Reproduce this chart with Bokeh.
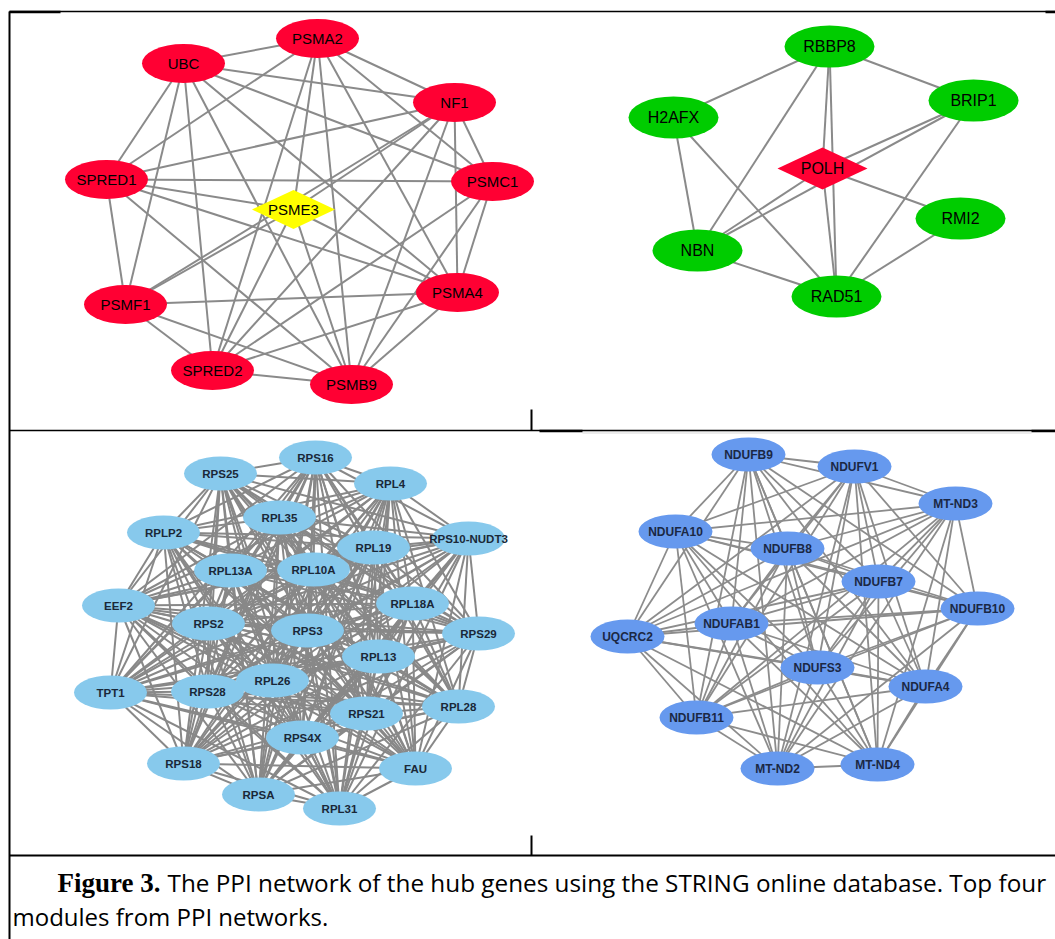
from itertools import combinations

from bokeh.core.properties import value
from bokeh.embed import file_html
from bokeh.models import ColumnDataSource, Range1d
from bokeh.plotting import figure
from bokeh.resources import INLINE

# ---------------------------------------------------------------------------
# Module 1: proteasome / SPRED cluster (PSME3 is the hub gene)
m1_genes = ["PSMA2", "UBC", "NF1", "SPRED1", "PSMC1", "PSME3",
            "PSMF1", "PSMA4", "SPRED2", "PSMB9"]
m1_x = [317, 183, 454, 106, 492, 293, 125, 457, 212, 351]
m1_y = [38, 63, 102, 179, 181, 209, 304, 292, 370, 384]
m1_hub = ["PSME3"]
m1_edges = [
    ("UBC", "PSMA2"), ("UBC", "NF1"), ("UBC", "PSMC1"), ("UBC", "SPRED1"),
    ("UBC", "PSMF1"), ("UBC", "SPRED2"), ("UBC", "PSMA4"), ("UBC", "PSMB9"),
    ("PSMA2", "SPRED1"), ("PSMA2", "NF1"), ("PSMA2", "PSMC1"), ("PSMA2", "PSMA4"),
    ("PSMA2", "PSMB9"), ("PSMA2", "PSME3"), ("PSMA2", "SPRED2"),
    ("NF1", "SPRED1"), ("NF1", "PSMC1"), ("NF1", "PSMA4"), ("NF1", "PSMB9"),
    ("NF1", "SPRED2"), ("NF1", "PSMF1"), ("NF1", "PSME3"),
    ("PSMC1", "SPRED1"), ("PSMC1", "PSMA4"), ("PSMC1", "PSMB9"), ("PSMC1", "SPRED2"),
    ("PSMA4", "PSMF1"), ("PSMA4", "SPRED2"), ("PSMA4", "PSMB9"), ("PSMA4", "SPRED1"),
    ("PSMA4", "PSME3"),
    ("PSMB9", "SPRED2"), ("PSMB9", "PSMF1"), ("PSMB9", "SPRED1"), ("PSMB9", "PSME3"),
    ("SPRED2", "PSMF1"), ("SPRED2", "PSME3"),
    ("PSMF1", "SPRED1"), ("PSMF1", "PSME3"),
    ("SPRED1", "PSME3"),
]

# Module 2: DNA repair cluster (POLH is the hub gene)
m2_genes = ["RBBP8", "H2AFX", "BRIP1", "POLH", "RMI2", "NBN", "RAD51"]
m2_x = [829, 673, 973, 822, 960, 697, 836]
m2_y = [46, 117, 100, 168, 218, 250, 296]
m2_hub = ["POLH"]
m2_edges = [
    ("RBBP8", "H2AFX"), ("RBBP8", "BRIP1"), ("RBBP8", "NBN"), ("RBBP8", "POLH"),
    ("RBBP8", "RAD51"), ("H2AFX", "NBN"), ("H2AFX", "RAD51"), ("BRIP1", "POLH"),
    ("BRIP1", "NBN"), ("BRIP1", "RAD51"), ("POLH", "RMI2"), ("POLH", "NBN"),
    ("POLH", "RAD51"), ("RMI2", "RAD51"), ("NBN", "RAD51"),
]

# Module 3: ribosomal proteins (every member pair interacts)
m3_genes = ["RPS16", "RPS25", "RPL4", "RPL35", "RPLP2", "RPL19", "RPS10-NUDT3",
            "RPL13A", "RPL10A", "EEF2", "RPL18A", "RPS2", "RPS3", "RPS29",
            "RPL13", "RPL26", "TPT1", "RPS28", "RPL28", "RPS21", "RPS4X",
            "RPS18", "FAU", "RPSA", "RPL31"]
m3_x = [315, 220, 390, 279, 163, 373, 468, 230, 313, 118, 412, 208, 307, 478,
        378, 272, 110, 207, 458, 366, 302, 183, 415, 258, 339]
m3_y = [457, 473, 483, 517, 532, 547, 538, 570, 569, 605, 603, 623, 630, 633,
        656, 680, 692, 691, 706, 713, 737, 763, 768, 794, 808]
m3_missing = []

# Module 4: respiratory chain complex I (every member pair interacts)
m4_genes = ["NDUFB9", "NDUFV1", "MT-ND3", "NDUFA10", "NDUFB8", "NDUFB7",
            "NDUFB10", "NDUFAB1", "UQCRC2", "NDUFS3", "NDUFA4", "NDUFB11",
            "MT-ND2", "MT-ND4"]
m4_x = [748, 854, 955, 675, 787, 878, 977, 731, 627, 817, 925, 696, 777, 877]
m4_y = [454, 466, 503, 531, 548, 581, 608, 623, 636, 667, 686, 717, 768, 764]
m4_missing = []

caption_bold = "Figure 3."
caption_line1 = ("The PPI network of the hub genes using the STRING online "
                 "database. Top four")
caption_line2 = "modules from PPI networks."

# ---------------------------------------------------------------------------
W, H = 1055, 939
p = figure(width=W, height=H, x_range=Range1d(0, W), y_range=Range1d(H, 0),
           output_backend="svg", toolbar_location=None,
           x_axis_location=None, y_axis_location=None, min_border=0)
p.grid.visible = False
p.outline_line_color = None
p.background_fill_color = "white"
p.border_fill_color = "white"


def full_edges(genes, missing):
    skip = {frozenset(e) for e in missing}
    return [e for e in combinations(genes, 2) if frozenset(e) not in skip]


def draw_module(genes, xs, ys, edges, hubs, node_w, node_h, fill, hub_fill,
                edge_w, edge_color, font, font_size, font_style, text_color):
    pos = {g: (x, y) for g, x, y in zip(genes, xs, ys)}
    p.segment(x0=[pos[a][0] for a, b in edges], y0=[pos[a][1] for a, b in edges],
              x1=[pos[b][0] for a, b in edges], y1=[pos[b][1] for a, b in edges],
              line_color=edge_color, line_width=edge_w)
    ell = [g for g in genes if g not in hubs]
    src = ColumnDataSource(dict(x=[pos[g][0] for g in ell], y=[pos[g][1] for g in ell]))
    p.ellipse(x="x", y="y", width=node_w, height=node_h, source=src,
              fill_color=fill, line_color=None)
    if hubs:
        hx = [[pos[g][0] - node_w / 2, pos[g][0], pos[g][0] + node_w / 2, pos[g][0]]
              for g in hubs]
        hy = [[pos[g][1], pos[g][1] - node_h / 2, pos[g][1], pos[g][1] + node_h / 2]
              for g in hubs]
        p.patches(xs=hx, ys=hy, fill_color=hub_fill, line_color=None)
    p.text(x=xs, y=ys, text=genes, text_align="center", text_baseline="middle",
           text_font=value(font), text_font_size=font_size,
           text_font_style=font_style, text_color=text_color)


draw_module(m1_genes, m1_x, m1_y, m1_edges, m1_hub, 83, 39,
            "#ff0033", "#ffff00", 2.0, "#8a8a8a",
            "Liberation Sans", "15px", "normal", "black")
draw_module(m2_genes, m2_x, m2_y, m2_edges, m2_hub, 90, 42,
            "#00cc00", "#ff0033", 2.0, "#8a8a8a",
            "Liberation Sans", "16px", "normal", "black")
draw_module(m3_genes, m3_x, m3_y, full_edges(m3_genes, m3_missing), [], 73, 34,
            "#87c9ec", None, 2.0, "#888888",
            "Liberation Sans", "11.5px", "bold", "#1a2838")
draw_module(m4_genes, m4_x, m4_y, full_edges(m4_genes, m4_missing), [], 74, 34,
            "#6699ee", None, 1.8, "#8c8c8c",
            "Liberation Sans", "12px", "bold", "#1b2844")

# Faint top edge of the lower-right network image
p.segment(x0=[582], y0=[432], x1=[1031], y1=[432], line_color="#ececec", line_width=3)

# Table frame around the four panels and the caption
p.segment(x0=[9, 9, 9, 9, 531, 531], y0=[11, 11, 430, 855, 409, 835],
          x1=[1055, 9, 1055, 1055, 531, 531], y1=[11, 939, 430, 855, 430, 855],
          line_color="black", line_width=[1.5, 2, 1.5, 2, 2, 2])
p.segment(x0=[9, 1045, 539, 1031], y0=[11.5, 11.5, 430.5, 430.5],
          x1=[60, 1055, 582, 1055], y1=[11.5, 11.5, 430.5, 430.5],
          line_color="black", line_width=2.5)

p.text(x=[57], y=[882], text=[caption_bold], text_align="left",
       text_baseline="alphabetic", text_font=value("Liberation Serif"),
       text_font_size="27px", text_font_style="bold", text_color="black")
p.text(x=[167], y=[882], text=[caption_line1],
       text_align="left", text_baseline="alphabetic", text_font=value("Open Sans"),
       text_font_size="24.3px", text_color="black")
p.text(x=[12], y=[916], text=[caption_line2],
       text_align="left", text_baseline="alphabetic", text_font=value("Open Sans"),
       text_font_size="24px", text_color="black")

open("out.html", "w").write(file_html(p, INLINE))
